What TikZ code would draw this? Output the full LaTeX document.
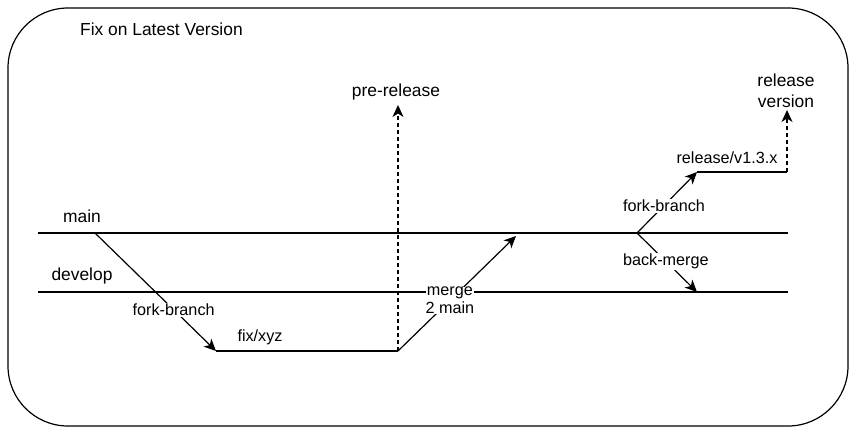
\documentclass[tikz,border=0pt]{standalone}
\usepackage{fontspec}
\setmainfont{Liberation Sans}
\usetikzlibrary{arrows.meta}
\begin{document}
\begin{tikzpicture}[x=1pt,y=-1pt,
  every node/.style={font=\fontsize{17.4}{21.5}\selectfont, inner sep=1pt},
  small/.style={font=\fontsize{16.2}{18.5}\selectfont},
  ln/.style={line width=1.2pt},
  arr/.style={ln,-{Stealth[length=12pt,width=11pt,inset=3.5pt]}},
  darr/.style={arr,dash pattern=on 4pt off 3pt},
  lbl/.style={small, fill=white, align=center}]
\useasboundingbox (0,0) rectangle (856,434);
\draw[ln, rounded corners=60pt] (8,8) rectangle (848,426);
\node[anchor=west, inner sep=0pt] (title) at (80,29) {Fix on Latest Version};
% branch lines
\coordinate (m0) at (38,233);
\coordinate (m1) at (788,233);
\coordinate (d0) at (38,292);
\coordinate (d1) at (788,292);
\draw[ln] (m0) -- (m1);
\draw[ln] (d0) -- (d1);
\node (mainlbl) at (82,216) {main};
\node (devlbl) at (82,276) {develop};
% fix branch
\coordinate (fk) at (95,233);
\coordinate (f0) at (216,351);
\coordinate (f1) at (398,351);
\draw[arr] (fk) -- node[lbl, pos=0.65] (fb1) {fork-branch} (f0);
\draw[ln] (f0) -- (f1);
\node[small] (fixlbl) at (260,337) {fix/xyz};
\coordinate (pr) at (398,105);
\draw[darr] (f1) -- (pr);
\node (prelbl) at (396,92) {pre-release};
\coordinate (mg) at (516,236);
\draw[arr] (f1) -- node[lbl, pos=0.44, inner sep=0pt] (mglbl) {merge\\2 main} (mg);
% release
\coordinate (rk) at (637,233);
\coordinate (r0) at (697,172);
\coordinate (r1) at (787,172);
\coordinate (bm) at (697,292);
\draw[arr] (rk) -- node[lbl, pos=0.45] (fb2) {fork-branch} (r0);
\draw[arr] (rk) -- node[lbl, pos=0.48] (bmlbl) {back-merge} (bm);
\draw[ln] (r0) -- (r1);
\node[small] (rellbl) at (727,158) {release/v1.3.x};
\coordinate (rv) at (787,110);
\draw[darr] (r1) -- (rv);
\node[align=center] (rvlbl) at (786,91) {release\\version};
\end{tikzpicture}
\end{document}
